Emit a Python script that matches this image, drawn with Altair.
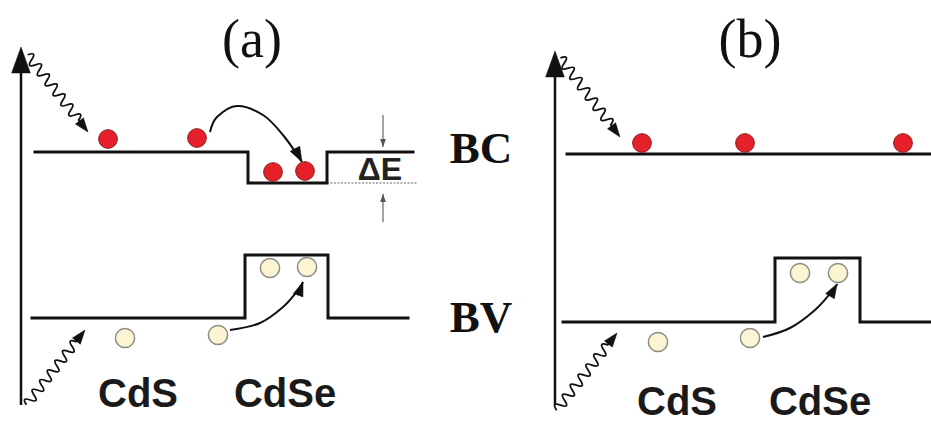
import altair as alt
import pandas as pd

W, H = 931, 424

# ---- band edges (position, energy), vertices listed in drawing order ----
band_edge = ["a-CB"] * 6 + ["a-VB"] * 6 + ["b-CB"] * 2 + ["b-VB"] * 6
band_x = [35, 248, 248, 327, 327, 413,
          32, 245, 245, 328, 328, 408,
          567, 931,
          563, 775, 775, 860, 860, 931]
band_e = [272, 272, 241, 241, 272, 272,
          106, 106, 169, 169, 106, 106,
          270, 270,
          102, 102, 166, 166, 102, 102]

# ---- energy axes (one per panel) ----
axis_x = [21, 555]
axis_lo = [19, 19]
axis_hi = [362, 358]

# ---- carriers ----
elec_x = [108, 197, 273, 305, 642, 745, 903]
elec_e = [285, 286, 252, 253, 281, 281, 281]
hole_x = [270, 307, 125, 218, 800, 838, 658, 750]
hole_e = [156, 157, 86, 89, 151, 151, 82, 86]

# ---- transfer arcs ----
arc_id = ["a-e"] * 6 + ["a-h"] * 5 + ["b-h"] * 5
arc_x = [210, 217, 237, 263, 283, 302,
         230, 260, 283, 298, 303,
         763, 790, 815, 833, 837]
arc_e = [292, 307, 318, 309, 289, 262,
         94, 101, 117, 134, 142,
         87, 96, 114, 134, 140]

# ---- photon (wavy) arrows: tip position, direction (deg, clockwise), length ----
wave_x = [88, 85, 620, 617]
wave_e = [292, 94, 287, 91]
wave_dir = [52, 308, 53, 308]
wave_len = [98, 95, 99, 98]

# ---- arrowheads: tip position, direction, length ----
head_x = [21, 555, 88, 85, 620, 617, 302, 303, 837]
head_e = [377, 373, 292, 94, 287, 91, 262, 142, 140]
head_dir = [270, 270, 52, 308, 53, 308, 62, 290, 300]
head_len = [26, 26, 14, 14, 14, 14, 15, 14, 14]

# ---- band-offset marker (ΔE) ----
de_x = [383, 383]
de_from = [309, 202]
de_to = [277, 230]
de_head_dir = [90, 270]
offset_x = [327, 417]
offset_e = 241

# ---- labels ----
title_txt = ["(a)", "(b)"]
title_x = [252, 750]
title_e = [367, 367]
band_txt = ["BC", "BV"]
band_lx = [481, 481]
band_le = [261, 92]
mat_txt = ["CdS", "CdSe", "CdS", "CdSe"]
mat_x = [138, 285, 677, 820]
mat_e = [17, 17, 9, 9]

# shapes: arrowhead with its tip at the origin; wave ending at the origin
HEAD = "M0,0 L-1,-0.36 L-1,0.36 Z"
wave_path = "M-2,0 Q-1.935,-0.2 -1.87,0"
pos = -1.87
while pos < -0.4:
    pos += 0.13
    wave_path += f" T{pos:.2f},0"
wave_path += " L-0.1,0"

xs = alt.Scale(domain=[0, W], nice=False, zero=False)
ys = alt.Scale(domain=[0, H], nice=False, zero=False)


def X(f):
    return alt.X(f, type="quantitative", scale=xs, axis=None)


def Y(f):
    return alt.Y(f, type="quantitative", scale=ys, axis=None)


bands = pd.DataFrame({"edge": band_edge, "x": band_x, "e": band_e,
                      "k": range(len(band_x))})
band_layer = alt.Chart(bands).mark_line(
    color="#111", strokeWidth=3, strokeJoin="miter", strokeCap="square"
).encode(x=X("x"), y=Y("e"), detail="edge:N", order="k:Q")

axes = pd.DataFrame({"x": axis_x, "lo": axis_lo, "hi": axis_hi})
axis_layer = alt.Chart(axes).mark_rule(color="#111", strokeWidth=2.5).encode(
    x=X("x"), y=Y("lo"), y2="hi")

arcs = pd.DataFrame({"id": arc_id, "x": arc_x, "e": arc_e,
                     "k": range(len(arc_x))})
arc_layer = alt.Chart(arcs).mark_line(
    color="#111", strokeWidth=2, interpolate="cardinal"
).encode(x=X("x"), y=Y("e"), detail="id:N", order="k:Q")

waves = pd.DataFrame({"x": wave_x, "e": wave_e, "dir": wave_dir,
                      "area": [v * v for v in wave_len]})
wave_layer = alt.Chart(waves).mark_point(
    shape=wave_path, filled=False, stroke="#111", strokeWidth=1.8, opacity=1
).encode(x=X("x"), y=Y("e"),
         angle=alt.Angle("dir:Q", scale=None),
         size=alt.Size("area:Q", scale=None))

heads = pd.DataFrame({"x": head_x, "e": head_e, "dir": head_dir,
                      "area": [(2 * v) ** 2 for v in head_len]})
head_layer = alt.Chart(heads).mark_point(
    shape=HEAD, filled=True, fill="#111", stroke="#111", strokeWidth=0.5, opacity=1
).encode(x=X("x"), y=Y("e"),
         angle=alt.Angle("dir:Q", scale=None),
         size=alt.Size("area:Q", scale=None))

de = pd.DataFrame({"x": de_x, "a": de_from, "b": de_to, "dir": de_head_dir})
de_rule = alt.Chart(de).mark_rule(color="#666", strokeWidth=1.2).encode(
    x=X("x"), y=Y("a"), y2="b")
de_head = alt.Chart(de).mark_point(
    shape=HEAD, filled=True, fill="#555", size=256, opacity=1
).encode(x=X("x"), y=Y("b"), angle=alt.Angle("dir:Q", scale=None))

offset = pd.DataFrame({"x": [offset_x[0]], "x2": [offset_x[1]], "e": [offset_e]})
offset_layer = alt.Chart(offset).mark_rule(
    color="#999", strokeWidth=1.5, strokeDash=[2, 1.5]
).encode(x=X("x"), x2="x2", y=Y("e"))

electrons = pd.DataFrame({"x": elec_x, "e": elec_e})
elec_layer = alt.Chart(electrons).mark_point(
    shape="circle", filled=True, fill="#e5202a", stroke="#8a1a1a",
    strokeWidth=1, size=350, opacity=1
).encode(x=X("x"), y=Y("e"))

holes = pd.DataFrame({"x": hole_x, "e": hole_e})
hole_layer = alt.Chart(holes).mark_point(
    shape="circle", filled=True, fill="#fbf5d4", stroke="#8e8e84",
    strokeWidth=1.5, size=370, opacity=1
).encode(x=X("x"), y=Y("e"))

titles = pd.DataFrame({"t": title_txt, "x": title_x, "e": title_e})
title_layer = alt.Chart(titles).mark_text(
    font="Liberation Serif", fontSize=54, color="#111",
    align="center", baseline="alphabetic"
).encode(x=X("x"), y=Y("e"), text="t:N")

blabels = pd.DataFrame({"t": band_txt, "x": band_lx, "e": band_le})
blabel_layer = alt.Chart(blabels).mark_text(
    font="Liberation Serif", fontSize=45, fontWeight="bold", color="#111",
    align="center", baseline="alphabetic"
).encode(x=X("x"), y=Y("e"), text="t:N")

mats = pd.DataFrame({"t": mat_txt, "x": mat_x, "e": mat_e})
mat_layer = alt.Chart(mats).mark_text(
    font="Liberation Sans", fontSize=40, fontWeight="bold", color="#1a1a1a",
    align="center", baseline="alphabetic"
).encode(x=X("x"), y=Y("e"), text="t:N")

de_txt = pd.DataFrame({"t": ["ΔE"], "x": [380], "e": [244]})
de_txt_layer = alt.Chart(de_txt).mark_text(
    font="Liberation Sans", fontSize=32, fontWeight="bold", color="#222",
    align="center", baseline="alphabetic"
).encode(x=X("x"), y=Y("e"), text="t:N")

chart = alt.layer(
    offset_layer, de_rule, de_head, axis_layer, band_layer, arc_layer,
    wave_layer, head_layer, elec_layer, hole_layer,
    title_layer, blabel_layer, mat_layer, de_txt_layer
).properties(
    width=W, height=H, padding=0,
    autosize=alt.AutoSizeParams(type="none")
).configure_view(stroke=None)

chart.save("out.html", embed_options={"renderer": "svg", "actions": False})
